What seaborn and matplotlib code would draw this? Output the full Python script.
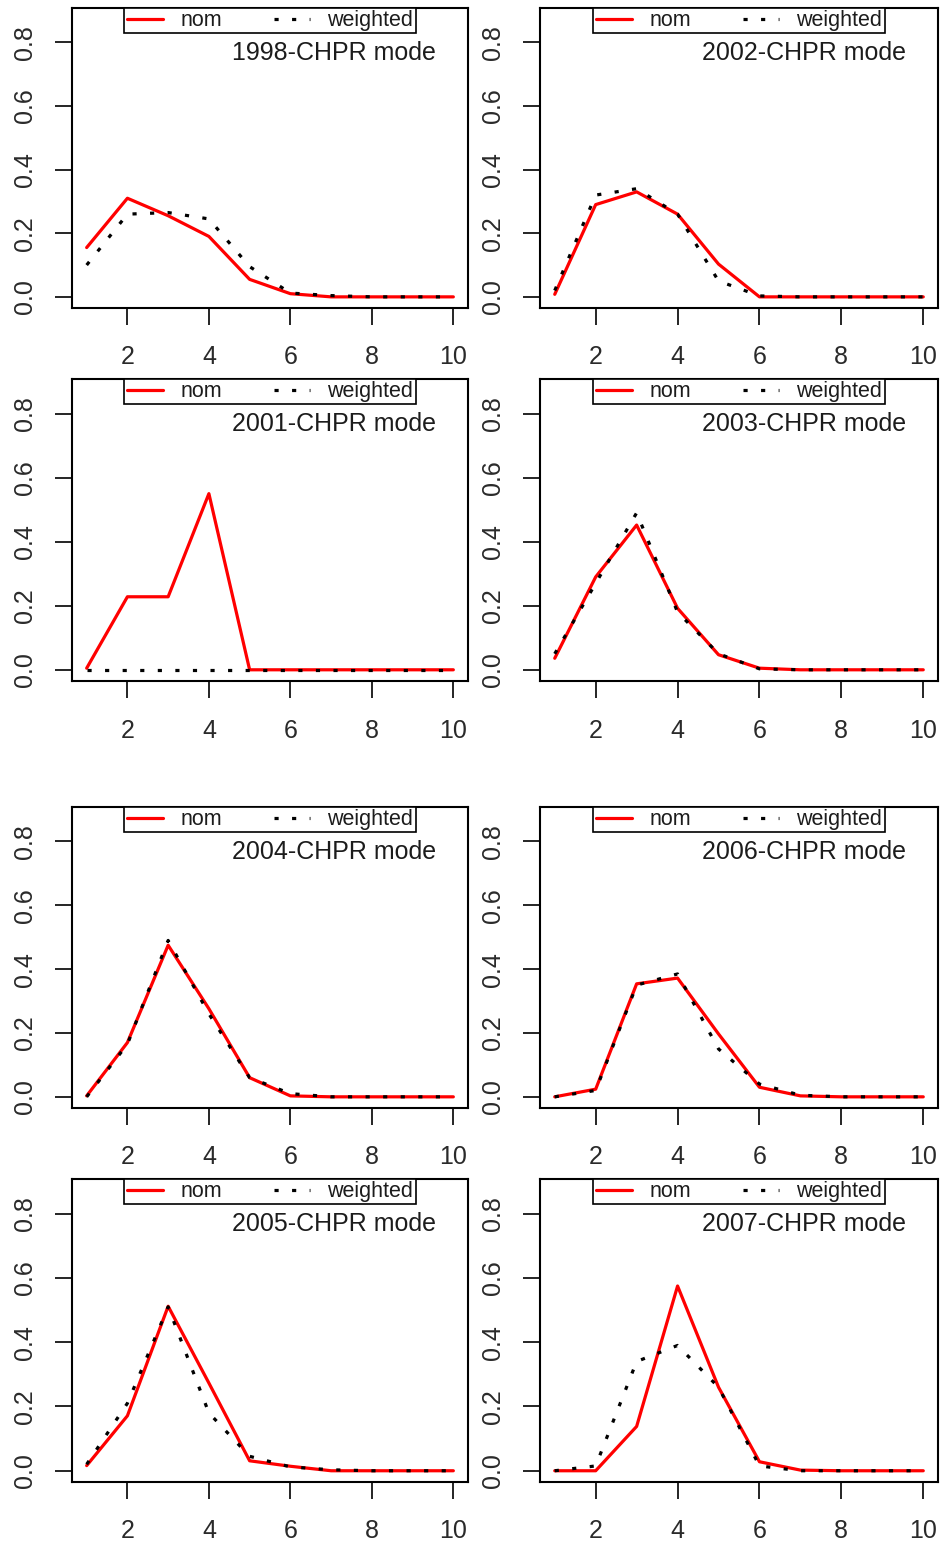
import numpy as np
import pandas as pd
import matplotlib
matplotlib.use("Agg")
import matplotlib.pyplot as plt
import seaborn as sns

# ---------------- data ----------------
x_vals = [1, 2, 3, 4, 5, 6, 7, 8, 9, 10]
titles = ["1998-CHPR mode", "2002-CHPR mode",
          "2001-CHPR mode", "2003-CHPR mode",
          "2004-CHPR mode", "2006-CHPR mode",
          "2005-CHPR mode", "2007-CHPR mode"]

nom_1998 = [0.155, 0.31, 0.255, 0.19, 0.055, 0.01, 0.0, 0.0, 0.0, 0.0]
wtd_1998 = [0.10, 0.26, 0.265, 0.245, 0.095, 0.012, 0.004, 0.0, 0.0, 0.0]
nom_2002 = [0.008, 0.29, 0.33, 0.26, 0.103, 0.0, 0.0, 0.0, 0.0, 0.0]
wtd_2002 = [0.02, 0.32, 0.34, 0.26, 0.05, 0.003, 0.0, 0.0, 0.0, 0.0]
nom_2001 = [0.005, 0.228, 0.228, 0.55, 0.0, 0.0, 0.0, 0.0, 0.0, 0.0]
wtd_2001 = [0.0, 0.0, 0.0, 0.0, 0.0, 0.0, 0.0, 0.0, 0.0, 0.0]
nom_2003 = [0.036, 0.29, 0.452, 0.192, 0.047, 0.005, 0.0, 0.0, 0.0, 0.0]
wtd_2003 = [0.05, 0.27, 0.49, 0.18, 0.05, 0.003, 0.0, 0.0, 0.0, 0.0]
nom_2004 = [0.003, 0.17, 0.475, 0.276, 0.06, 0.003, 0.0, 0.0, 0.0, 0.0]
wtd_2004 = [0.0, 0.165, 0.49, 0.26, 0.06, 0.01, 0.0, 0.0, 0.0, 0.0]
nom_2006 = [0.0, 0.024, 0.354, 0.372, 0.197, 0.03, 0.003, 0.0, 0.0, 0.0]
wtd_2006 = [0.0, 0.02, 0.35, 0.385, 0.15, 0.04, 0.005, 0.0, 0.0, 0.0]
nom_2005 = [0.016, 0.171, 0.512, 0.273, 0.031, 0.014, 0.0, 0.0, 0.0, 0.0]
wtd_2005 = [0.02, 0.21, 0.51, 0.18, 0.045, 0.012, 0.003, 0.0, 0.0, 0.0]
nom_2007 = [0.0, 0.0, 0.138, 0.575, 0.26, 0.028, 0.002, 0.0, 0.0, 0.0]
wtd_2007 = [0.0, 0.015, 0.34, 0.39, 0.26, 0.015, 0.0, 0.0, 0.0, 0.0]

nom_series = [nom_1998, nom_2002, nom_2001, nom_2003, nom_2004, nom_2006, nom_2005, nom_2007]
wtd_series = [wtd_1998, wtd_2002, wtd_2001, wtd_2003, wtd_2004, wtd_2006, wtd_2005, wtd_2007]

x_ticks = [2, 4, 6, 8, 10]
y_ticks = [0.0, 0.2, 0.4, 0.6, 0.8]
y_tick_labels = ["0.0", "0.2", "0.4", "0.6", "0.8"]
legend_labels = ["nom", "weighted"]

# ---------------- style ----------------
sns.set_style("white")
plt.rcParams['font.family'] = ['Liberation Sans', 'DejaVu Sans']
TXT = "#1c1c1c"

W, H = 940, 1547
fig = plt.figure(figsize=(W / 100, H / 100), dpi=100)

cols = [(72, 468), (540, 938)]
rows = [(8, 308), (379, 681), (807, 1108), (1179, 1482)]

for i in range(8):
    r, c = divmod(i, 2)
    x0, x1 = cols[c]
    y0, y1 = rows[r]
    ax = fig.add_axes([x0 / W, 1 - y1 / H, (x1 - x0) / W, (y1 - y0) / H])
    df = pd.DataFrame({"x": x_vals, "nom": nom_series[i], "weighted": wtd_series[i]})
    sns.lineplot(data=df, x="x", y="nom", ax=ax, color="#ff0000", linewidth=2.3,
                 label=legend_labels[0], zorder=2)
    sns.lineplot(data=df, x="x", y="weighted", ax=ax, color="black", linewidth=2.3,
                 label=legend_labels[1], zorder=3)
    wline = ax.lines[-1]
    wline.set_linestyle((0, (1.3, 4.2)))
    wline.set_dash_capstyle("butt")
    ax.set_xlim(0.64, 10.36)
    ax.set_ylim(-0.035, 0.908)
    ax.set_xlabel("")
    ax.set_ylabel("")
    ax.set_xticks(x_ticks)
    ax.set_xticklabels([str(t) for t in x_ticks])
    ax.set_yticks(y_ticks)
    ax.set_yticklabels(y_tick_labels, rotation=90, va="center")
    for s in ax.spines.values():
        s.set_visible(True)
        s.set_color("black")
        s.set_linewidth(1.5)
    ax.tick_params(axis="both", direction="out", length=12, width=1.2,
                   color="black", labelsize=18, labelcolor="#2a2a2a")
    ax.tick_params(axis="x", pad=15, bottom=True)
    ax.tick_params(axis="y", pad=13, left=True)
    ax.grid(False)

    leg = ax.legend(loc="upper center", bbox_to_anchor=(0.5, 1.0), ncol=2,
                    frameon=True, fancybox=False, borderaxespad=0.0,
                    borderpad=0.1, handlelength=1.7, handletextpad=0.8,
                    columnspacing=2.4, fontsize=15.5, labelspacing=0.1)
    fr = leg.get_frame()
    fr.set_edgecolor("black")
    fr.set_linewidth(1.2)
    fr.set_alpha(1)
    for t in leg.get_texts():
        t.set_color(TXT)

    ax.text(0.919, 0.85, titles[i], transform=ax.transAxes, ha="right",
            va="center", fontsize=18, color=TXT)

fig.savefig("out.png", dpi=100)
